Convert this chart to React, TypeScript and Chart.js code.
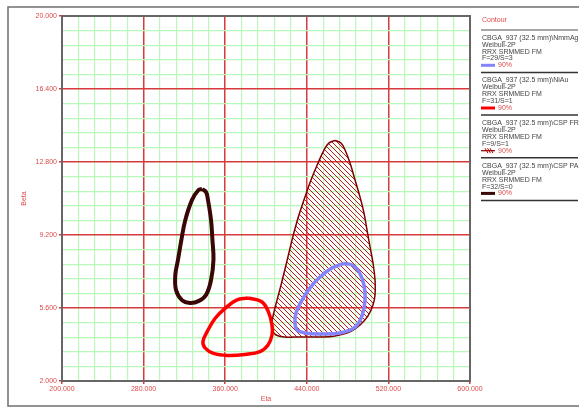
import React, { useEffect, useRef } from 'react';
import { Chart, registerables } from 'chart.js';

Chart.register(...registerables);

// ---- axis ticks ----
const majorEta = [200, 280, 360, 440, 520, 600];
const majorBeta = [2, 5.6, 9.2, 12.8, 16.4, 20];
const minorDivisions = 5;

// ---- legend texts ----
const legendTitle = 'Contour';
const seriesNames = [
  'CBGA_937 (32.5 mm)\\NmmAg',
  'CBGA_937 (32.5 mm)\\NiAu',
  'CBGA_937 (32.5 mm)\\CSP FR',
  'CBGA_937 (32.5 mm)\\CSP PA',
];
const seriesModel = ['Weibull-2P', 'Weibull-2P', 'Weibull-2P', 'Weibull-2P'];
const seriesMethod = ['RRX SRMMED FM', 'RRX SRMMED FM', 'RRX SRMMED FM', 'RRX SRMMED FM'];
const seriesFS = ['F=29/S=3', 'F=31/S=1', 'F=9/S=1', 'F=32/S=0'];
const confidence = ['90%', '90%', '90%', '90%'];

// ---- contour data (Eta, Beta) ----
const nmmAgEta = [475.5, 484.3, 491.2, 496.1, 497.1, 494.1, 487.3, 472.5, 452.9, 438.2, 430.4, 428.4, 429.4, 434.3, 443.1, 452.9, 464.7, 475.5];
const nmmAgBeta = [7.79, 7.72, 7.38, 6.73, 5.99, 5.21, 4.66, 4.37, 4.32, 4.37, 4.52, 4.91, 5.35, 5.9, 6.59, 7.13, 7.57, 7.79];

const niAuEta = [382.4, 395.8, 402.3, 405.9, 405.9, 402.0, 394.1, 379.4, 362.7, 348.5, 340.2, 338.2, 342.2, 350.0, 359.8, 371.1, 382.4];
const niAuBeta = [6.09, 5.91, 5.42, 4.76, 4.27, 3.78, 3.45, 3.31, 3.26, 3.36, 3.63, 3.95, 4.42, 5.08, 5.58, 5.99, 6.09];

const cspFrEta = [467.6, 473.5, 477.5, 482.4, 487.3, 492.2, 496.1, 499.0, 502.0, 504.9, 506.9, 506.9, 504.9, 500.0, 492.2, 482.4, 467.6, 452.9, 433.3, 418.6, 409.8, 405.9, 405.9, 407.8, 410.8, 414.7, 419.6, 425.5, 431.4, 438.2, 444.1, 451.0, 456.9, 461.8, 467.6];
const cspFrBeta = [13.86, 13.74, 13.39, 12.75, 11.91, 11.07, 10.28, 9.45, 8.61, 7.82, 6.98, 6.24, 5.75, 5.21, 4.76, 4.42, 4.22, 4.17, 4.17, 4.17, 4.27, 4.52, 4.91, 5.4, 5.99, 6.73, 7.72, 8.95, 10.04, 11.07, 11.91, 12.75, 13.39, 13.74, 13.86];

const cspPaEta = [337.3, 341.2, 343.1, 346.1, 347.5, 348.5, 346.1, 341.2, 334.3, 325.5, 317.6, 311.8, 311.1, 313.7, 317.0, 320.9, 327.5, 333.8, 337.3];
const cspPaBeta = [11.47, 11.32, 10.93, 9.94, 8.95, 7.97, 6.98, 6.24, 5.95, 5.85, 5.99, 6.49, 7.23, 7.97, 8.95, 9.94, 10.93, 11.42, 11.47];

const toPoints = (xs: number[], ys: number[]) => xs.map((x, i) => ({ x, y: ys[i] }));

const buildTicks = (majors: number[]) => {
  const out: number[] = [];
  for (let i = 0; i < majors.length - 1; i++) {
    const step = (majors[i + 1] - majors[i]) / minorDivisions;
    for (let k = 0; k < minorDivisions; k++) out.push(majors[i] + k * step);
  }
  out.push(majors[majors.length - 1]);
  return out;
};

const etaTicks = buildTicks(majorEta);
const betaTicks = buildTicks(majorBeta);

const RED_TEXT = '#dc4b4b';
const MAJOR = '#d63a3a';
const MINOR = '#b8f8b8';
const FONT = '"Liberation Sans", Arial, sans-serif';

const makeHatch = () => {
  const c = document.createElement('canvas');
  c.width = 5;
  c.height = 5;
  const g = c.getContext('2d')!;
  g.strokeStyle = '#b80000';
  g.lineWidth = 0.9;
  g.beginPath();
  g.moveTo(-1, -1);
  g.lineTo(6, 6);
  g.stroke();
  g.beginPath();
  g.moveTo(-1, 4);
  g.lineTo(1, 6);
  g.stroke();
  g.beginPath();
  g.moveTo(4, -1);
  g.lineTo(6, 1);
  g.stroke();
  return g.createPattern(c, 'repeat')!;
};

const framePlugin = {
  id: 'frames',
  afterDraw(chart: any) {
    const { ctx, chartArea } = chart;
    ctx.save();
    ctx.strokeStyle = '#777';
    ctx.lineWidth = 1.6;
    ctx.strokeRect(8, 7, 590, 399);
    ctx.strokeStyle = '#666';
    ctx.lineWidth = 2;
    ctx.strokeRect(chartArea.left, chartArea.top, chartArea.right - chartArea.left, chartArea.bottom - chartArea.top);
    ctx.restore();
  },
};

const legendPlugin = {
  id: 'contourLegend',
  afterDraw(chart: any) {
    const ctx = chart.ctx as CanvasRenderingContext2D;
    const x0 = 482;
    const sep = (y: number, color: string) => {
      ctx.strokeStyle = color;
      ctx.lineWidth = 1.5;
      ctx.beginPath();
      ctx.moveTo(481, y);
      ctx.lineTo(578, y);
      ctx.stroke();
    };
    ctx.save();
    ctx.font = `7px ${FONT}`;
    ctx.textBaseline = 'middle';
    ctx.textAlign = 'left';
    ctx.fillStyle = RED_TEXT;
    ctx.fillText(legendTitle, x0, 20.5);
    sep(30, '#888');
    const styles = chart.data.datasets;
    for (let i = 0; i < seriesNames.length; i++) {
      const y0 = 37.8 + i * 42.7;
      ctx.fillStyle = '#444';
      ctx.fillText(seriesNames[i], x0, y0);
      ctx.fillText(seriesModel[i], x0, y0 + 7);
      ctx.fillText(seriesMethod[i], x0, y0 + 14);
      ctx.fillText(seriesFS[i], x0, y0 + 20.7);
      const ys = y0 + 27.5;
      const ds = styles[i];
      ctx.strokeStyle = ds.borderColor;
      ctx.lineWidth = i === 2 ? 1.2 : 3;
      ctx.beginPath();
      ctx.moveTo(481, ys);
      ctx.lineTo(495, ys);
      ctx.stroke();
      if (i === 2) {
        ctx.strokeStyle = '#b80000';
        ctx.lineWidth = 1;
        for (let k = 0; k < 3; k++) {
          ctx.beginPath();
          ctx.moveTo(485 + k * 2.5, ys - 2.5);
          ctx.lineTo(488 + k * 2.5, ys + 2.5);
          ctx.stroke();
        }
      }
      ctx.fillStyle = RED_TEXT;
      ctx.fillText(confidence[i], 498, ys);
      sep(y0 + 34.6, '#333');
    }
    ctx.restore();
  },
};

export default function App() {
  const ref = useRef<HTMLCanvasElement>(null);
  useEffect(() => {
    if (!ref.current) return;
    const hatch = makeHatch();
    const isMajor = (c: any) => c.index % minorDivisions === 0;
    const gridColor = (c: any) => (isMajor(c) ? MAJOR : MINOR);
    const gridWidth = (c: any) => (isMajor(c) ? 1.5 : 1.2);
    const tickColor = (c: any) => (isMajor(c) ? MAJOR : 'rgba(0,0,0,0)');
    const chart = new Chart(ref.current, {
      type: 'scatter',
      data: {
        datasets: [
          {
            label: seriesNames[0],
            data: toPoints(nmmAgEta, nmmAgBeta),
            showLine: true,
            borderColor: '#8484fc',
            borderWidth: 3.5,
            pointRadius: 0,
            tension: 0.4,
            fill: false,
            order: 0,
          },
          {
            label: seriesNames[1],
            data: toPoints(niAuEta, niAuBeta),
            showLine: true,
            borderColor: '#ff0000',
            borderWidth: 3.5,
            pointRadius: 0,
            tension: 0.4,
            fill: false,
            order: 1,
          },
          {
            label: seriesNames[2],
            data: toPoints(cspFrEta, cspFrBeta),
            showLine: true,
            borderColor: '#800000',
            backgroundColor: hatch as any,
            borderWidth: 1.5,
            pointRadius: 0,
            tension: 0.4,
            fill: 'shape',
            order: 2,
          },
          {
            label: seriesNames[3],
            data: toPoints(cspPaEta, cspPaBeta),
            showLine: true,
            borderColor: '#3a0606',
            borderWidth: 4,
            pointRadius: 0,
            tension: 0.4,
            fill: false,
            order: 3,
          },
        ],
      },
      options: {
        responsive: false,
        animation: false,
        layout: { padding: { left: 0, top: 16, right: 109, bottom: 0 } },
        plugins: { legend: { display: false }, tooltip: { enabled: false } },
        scales: {
          x: {
            type: 'linear',
            min: 200,
            max: 600,
            afterBuildTicks: (s: any) => {
              s.ticks = etaTicks.map((v) => ({ value: v }));
            },
            afterFit: (s: any) => {
              s.height = 26;
              s.paddingLeft = 0;
              s.paddingRight = 0;
            },
            ticks: {
              autoSkip: false,
              maxRotation: 0,
              padding: 1,
              color: RED_TEXT,
              font: { family: FONT, size: 7 },
              callback: (v: any, i: number) => (i % minorDivisions === 0 ? Number(v).toFixed(3) : ''),
            },
            grid: { color: gridColor, lineWidth: gridWidth, tickColor, tickLength: 3, tickWidth: 1.5 },
            border: { display: false },
            title: { display: true, text: 'Eta', color: RED_TEXT, font: { family: FONT, size: 7 }, padding: { top: 0, bottom: 4 } },
          },
          y: {
            type: 'linear',
            min: 2,
            max: 20,
            afterBuildTicks: (s: any) => {
              s.ticks = betaTicks.map((v) => ({ value: v }));
            },
            afterFit: (s: any) => {
              s.width = 62;
            },
            ticks: {
              autoSkip: false,
              padding: 2,
              color: RED_TEXT,
              font: { family: FONT, size: 7 },
              callback: (v: any, i: number) => (i % minorDivisions === 0 ? Number(v).toFixed(3) : ''),
            },
            grid: { color: gridColor, lineWidth: gridWidth, tickColor, tickLength: 3, tickWidth: 1.5 },
            border: { display: false },
            title: { display: true, text: 'Beta', color: RED_TEXT, font: { family: FONT, size: 7 }, padding: { top: 20, bottom: 0 } },
          },
        },
      },
      plugins: [framePlugin, legendPlugin],
    } as any);
    return () => chart.destroy();
  }, []);
  return (
    <div style={{ position: 'absolute', left: 0, top: 0, width: 579, height: 407, background: '#fff' }}>
      <canvas ref={ref} width={579} height={407} style={{ display: 'block' }} />
    </div>
  );
}
